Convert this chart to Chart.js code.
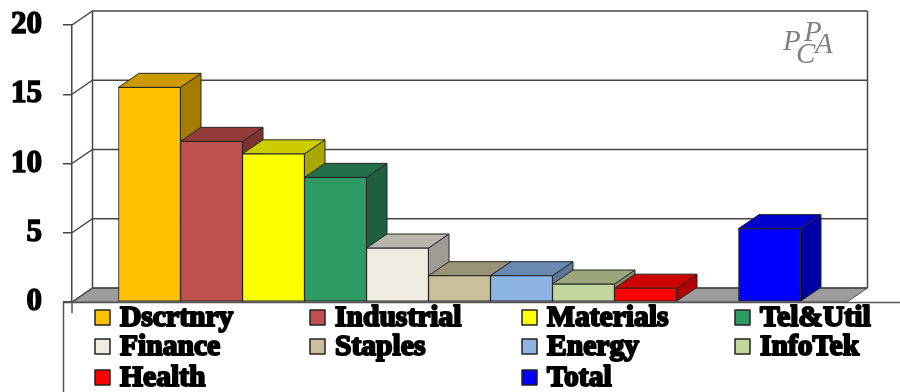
<!DOCTYPE html>
<html>
<head>
<meta charset="utf-8">
<script src="https://cdn.jsdelivr.net/npm/chart.js@4.4.1/dist/chart.umd.min.js"></script>
<style>
  html, body { margin: 0; padding: 0; background: #fff; }
  canvas { display: block; }
</style>
</head>
<body>
<canvas id="sectorChart" width="900" height="392"></canvas>
<script>
// Sector values (blank slot keeps the gap before Total)
const sectors = ['Dscrtnry', 'Industrial', 'Materials', 'Tel&Util', 'Finance', 'Staples', 'Energy', 'InfoTek', 'Health', '', 'Total'];
const gains = [15.5, 11.6, 10.7, 9.0, 3.9, 1.9, 1.9, 1.3, 1.0, null, 5.3];

const frontColors = ['#FFC000', '#C0504D', '#FFFF00', '#2E9A64', '#EEECE1', '#C8C09A', '#8DB4E2', '#C3D69B', '#FF0000', '#ffffff', '#0000FF'];
const topColors   = ['#CC9A00', '#943C3A', '#CCCC00', '#236F4A', '#B8B6AD', '#9A9274', '#6A89B2', '#98A679', '#CC0000', '#ffffff', '#0000CC'];
const sideColors  = ['#A57C00', '#7E3230', '#A8A800', '#1E5F3F', '#9D9B93', '#857E62', '#5A7699', '#838F68', '#B00000', '#ffffff', '#0000A6'];

// depth offset of the 3D box
const DX = 20.5;
const DY = -14;

const serif = '"Liberation Serif", "Times New Roman", serif';

function face(ctx, pts, fill) {
    ctx.beginPath();
    ctx.moveTo(pts[0][0], pts[0][1]);
    for (let i = 1; i < pts.length; i++) ctx.lineTo(pts[i][0], pts[i][1]);
    ctx.closePath();
    ctx.fillStyle = fill;
    ctx.fill();
    ctx.stroke();
}

const depthPlugin = {
    id: 'depth',
    beforeDatasetsDraw(chart) {
        const { ctx, chartArea: a } = chart;
        const y = chart.scales.y;
        const base = y.getPixelForValue(0);
        const top = y.getPixelForValue(y.max);
        ctx.save();

        // floor
        ctx.strokeStyle = '#555';
        ctx.lineWidth = 1;
        face(ctx, [[a.left, base], [a.right, base], [a.right + DX, base + DY], [a.left + DX, base + DY]], '#9c9c9c');

        // grid lines on the side and back walls
        ctx.strokeStyle = '#454545';
        ctx.lineWidth = 1.5;
        y.ticks.forEach(t => {
            const py = y.getPixelForValue(t.value);
            ctx.beginPath();
            ctx.moveTo(a.left, py);
            ctx.lineTo(a.left + DX, py + DY);
            ctx.lineTo(a.right + DX, py + DY);
            ctx.stroke();
        });
        ctx.beginPath();
        ctx.moveTo(a.left + DX, top + DY);
        ctx.lineTo(a.left + DX, base + DY);
        ctx.moveTo(a.right + DX, top + DY);
        ctx.lineTo(a.right + DX, base + DY);
        ctx.stroke();

        // side and top faces, left to right so later bars cover earlier sides
        ctx.strokeStyle = '#262626';
        ctx.lineWidth = 1;
        const meta = chart.getDatasetMeta(0);
        meta.data.forEach((bar, i) => {
            if (gains[i] == null) return;
            const p = bar.getProps(['x', 'y', 'base', 'width'], true);
            const l = p.x - p.width / 2, r = p.x + p.width / 2;
            face(ctx, [[r, p.y], [r + DX, p.y + DY], [r + DX, p.base + DY], [r, p.base]], sideColors[i]);
            face(ctx, [[l, p.y], [l + DX, p.y + DY], [r + DX, p.y + DY], [r, p.y]], topColors[i]);
        });
        ctx.restore();
    },
    afterDraw(chart) {
        const { ctx, chartArea: a } = chart;
        const base = chart.scales.y.getPixelForValue(0);
        ctx.save();

        // legend box
        const boxLeft = a.left - 9;
        ctx.fillStyle = '#fff';
        ctx.fillRect(boxLeft, base, chart.width - boxLeft, chart.height - base);
        ctx.strokeStyle = '#555';
        ctx.lineWidth = 1.5;
        ctx.beginPath();
        ctx.moveTo(boxLeft, base + 0.5);
        ctx.lineTo(chart.width, base + 0.5);
        ctx.moveTo(boxLeft + 0.5, base);
        ctx.lineTo(boxLeft + 0.5, chart.height);
        ctx.moveTo(a.left, base);
        ctx.lineTo(a.left, base + 11);
        ctx.stroke();

        const colX = [23, 238, 450, 663].map(v => a.left + v);
        const rowY = [24, 53, 84].map(v => base + v);
        ctx.font = 'bold 29px ' + serif;
        ctx.textBaseline = 'alphabetic';
        ctx.lineJoin = 'round';
        sectors.forEach((name, i) => {
            if (!name) return;
            const cx = colX[i % 4], by = rowY[Math.floor(i / 4)];
            ctx.fillStyle = frontColors[i];
            ctx.fillRect(cx, by - 16, 15, 15);
            ctx.strokeStyle = '#222';
            ctx.lineWidth = 1.5;
            ctx.strokeRect(cx, by - 16, 15, 15);
            ctx.save();
            ctx.translate(cx + 25, by);
            ctx.scale(1.02, 1);
            ctx.fillStyle = '#000';
            ctx.strokeStyle = '#000';
            ctx.lineWidth = 2;
            ctx.fillText(name, 0, 0);
            ctx.strokeText(name, 0, 0);
            ctx.restore();
        });

        // PCPA mark
        ctx.fillStyle = '#808080';
        ctx.font = 'italic 29px ' + serif;
        ctx.fillText('P', 783, 50);
        ctx.fillText('C', 796, 63);
        ctx.fillText('P', 804, 41);
        ctx.fillText('A', 815, 53);
        ctx.restore();
    }
};

new Chart(document.getElementById('sectorChart'), {
    type: 'bar',
    data: {
        datasets: [{
            data: gains.map((v, i) => ({ x: i, y: v })),
            backgroundColor: frontColors,
            borderColor: '#262626',
            borderWidth: 1,
            borderSkipped: false,
            barPercentage: 1,
            categoryPercentage: 1
        }]
    },
    options: {
        responsive: false,
        animation: false,
        layout: { padding: { top: 25, right: 53, bottom: 90, left: 0 } },
        plugins: {
            legend: { display: false },
            tooltip: { enabled: false }
        },
        scales: {
            x: {
                type: 'linear',
                display: false,
                offset: false,
                min: -1.25,
                max: 11.25,
                ticks: { stepSize: 1, includeBounds: false }
            },
            y: {
                min: 0,
                max: 20,
                afterFit: s => {
                    s.width = 72;
                    s.paddingTop = 0;
                    s.paddingBottom = 0;
                },
                ticks: {
                    stepSize: 5,
                    padding: 21,
                    color: '#000',
                    textStrokeColor: '#000',
                    textStrokeWidth: 1.5,
                    font: { family: serif, size: 31, weight: 'bold' }
                },
                grid: {
                    drawOnChartArea: false,
                    tickLength: 9,
                    color: '#454545',
                    lineWidth: 1.5
                },
                border: { color: '#454545', width: 1.5 }
            }
        }
    },
    plugins: [depthPlugin]
});
</script>
</body>
</html>
